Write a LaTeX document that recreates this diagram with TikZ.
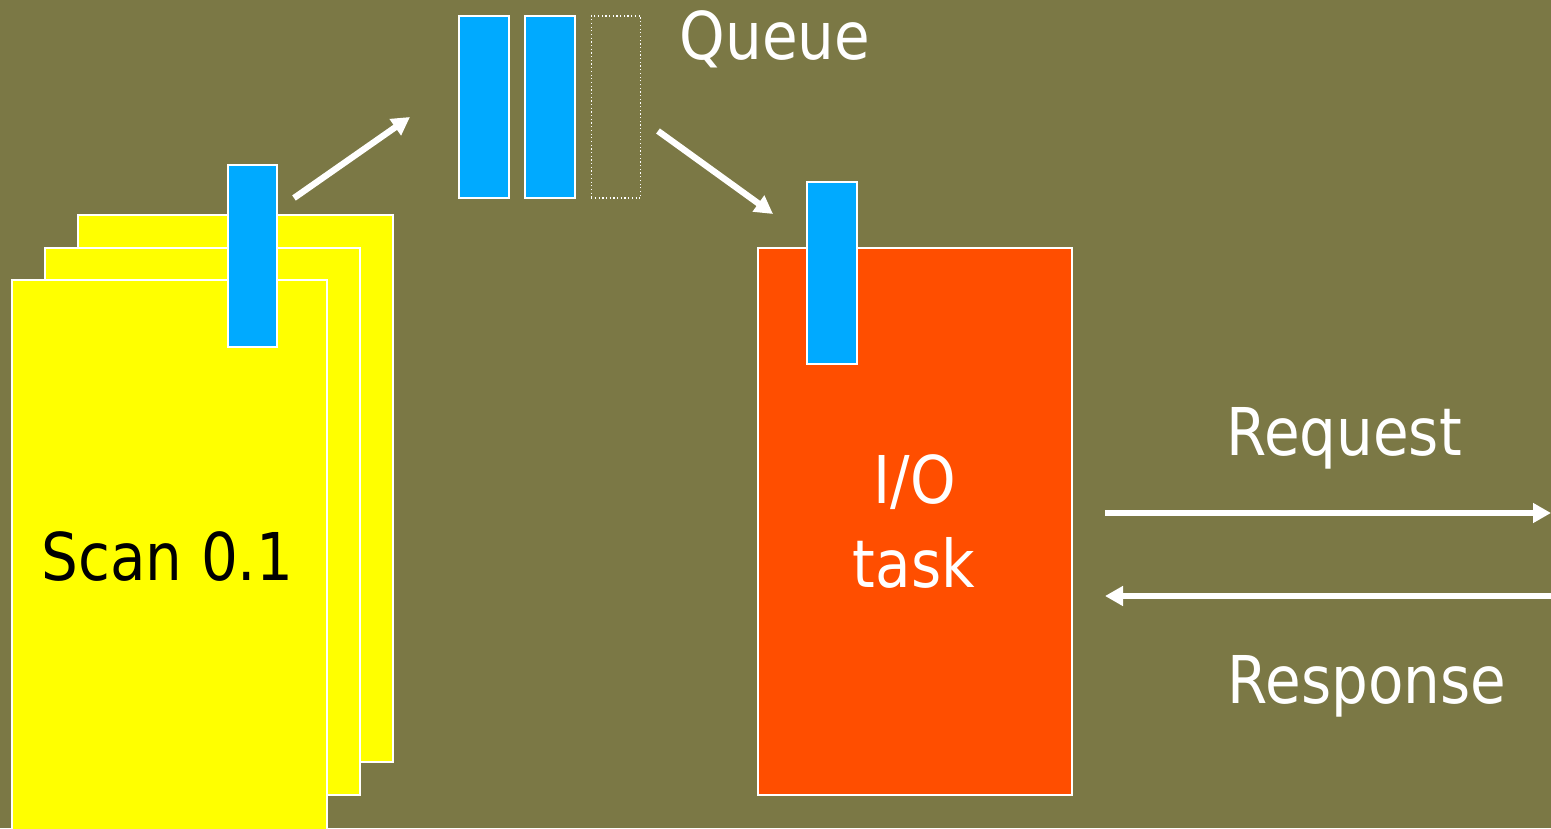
\documentclass[tikz,border=0pt]{standalone}
\usepackage{fontspec}
\setmainfont{DejaVu Sans}[FakeStretch=0.88]
\usetikzlibrary{arrows.meta}
\definecolor{olivebg}{RGB}{123,120,69}
\definecolor{pageyellow}{RGB}{255,255,0}
\definecolor{tabblue}{RGB}{0,170,255}
\definecolor{taskorange}{RGB}{255,78,0}
\tikzset{
  box/.style={draw=white, line width=1.1pt, inner sep=0pt, outer sep=0pt},
  page/.style={box, fill=pageyellow, minimum width=6.3cm, minimum height=10.94cm},
  tab/.style={box, fill=tabblue, minimum width=0.99cm, minimum height=3.64cm},
  slot/.style={draw=white, line width=0.7pt, dash pattern=on 0.7pt off 1.4pt, inner sep=0pt, minimum width=0.99cm, minimum height=3.64cm},
  lbl/.style={inner sep=0pt, anchor=base, font=\fontsize{37.5}{47.8}\selectfont},
  flow/.style={draw=white, line width=3.6pt, -{Triangle[length=0.36cm, width=0.38cm]}}
}
\begin{document}
\begin{tikzpicture}[x=0.02cm, y=-0.02cm]
\fill[olivebg] (0,0) rectangle (1551,828);
\useasboundingbox (0,0) rectangle (1551,828);
% stacked pages
\node[page] (p3) at (235.5,488.5) {};
\node[page] (p2) at (202.5,521.5) {};
\node[page, minimum height=11.4cm] (p1) at (169.5,565) {};
\node[tab] (t1) at (252.5,256) {};
\node[lbl, text=black] (scan) at (167.5,580) {Scan 0.1};
% queue
\node[tab] (q1) at (484,107) {};
\node[tab] (q2) at (550,107) {};
\node[slot] (q3) at (616,107) {};
\node[lbl, text=white] (queue) at (775,60) {Queue};
% I/O task
\node[box, fill=taskorange, minimum width=6.28cm, minimum height=10.94cm] (io) at (915,521.5) {};
\node[tab] (t2) at (832,273) {};
\node[lbl, text=white] (iol) at (914.5,503) {I/O};
\node[lbl, text=white] (taskl) at (914,587) {task};
% arrows
\coordinate (a1s) at (294,198);
\coordinate (a1e) at (410,117);
\coordinate (a2s) at (658,131);
\coordinate (a2e) at (773,214);
\coordinate (rqs) at (1105,513);
\coordinate (rqe) at (1551,513);
\coordinate (rss) at (1551,596);
\coordinate (rse) at (1105,596);
\draw[flow] (a1s) -- (a1e);
\draw[flow] (a2s) -- (a2e);
\draw[flow] (rqs) -- (rqe);
\draw[flow] (rss) -- (rse);
\node[lbl, text=white] (req) at (1344,455) {Request};
\node[lbl, text=white] (resp) at (1367,703) {Response};
\end{tikzpicture}
\end{document}
